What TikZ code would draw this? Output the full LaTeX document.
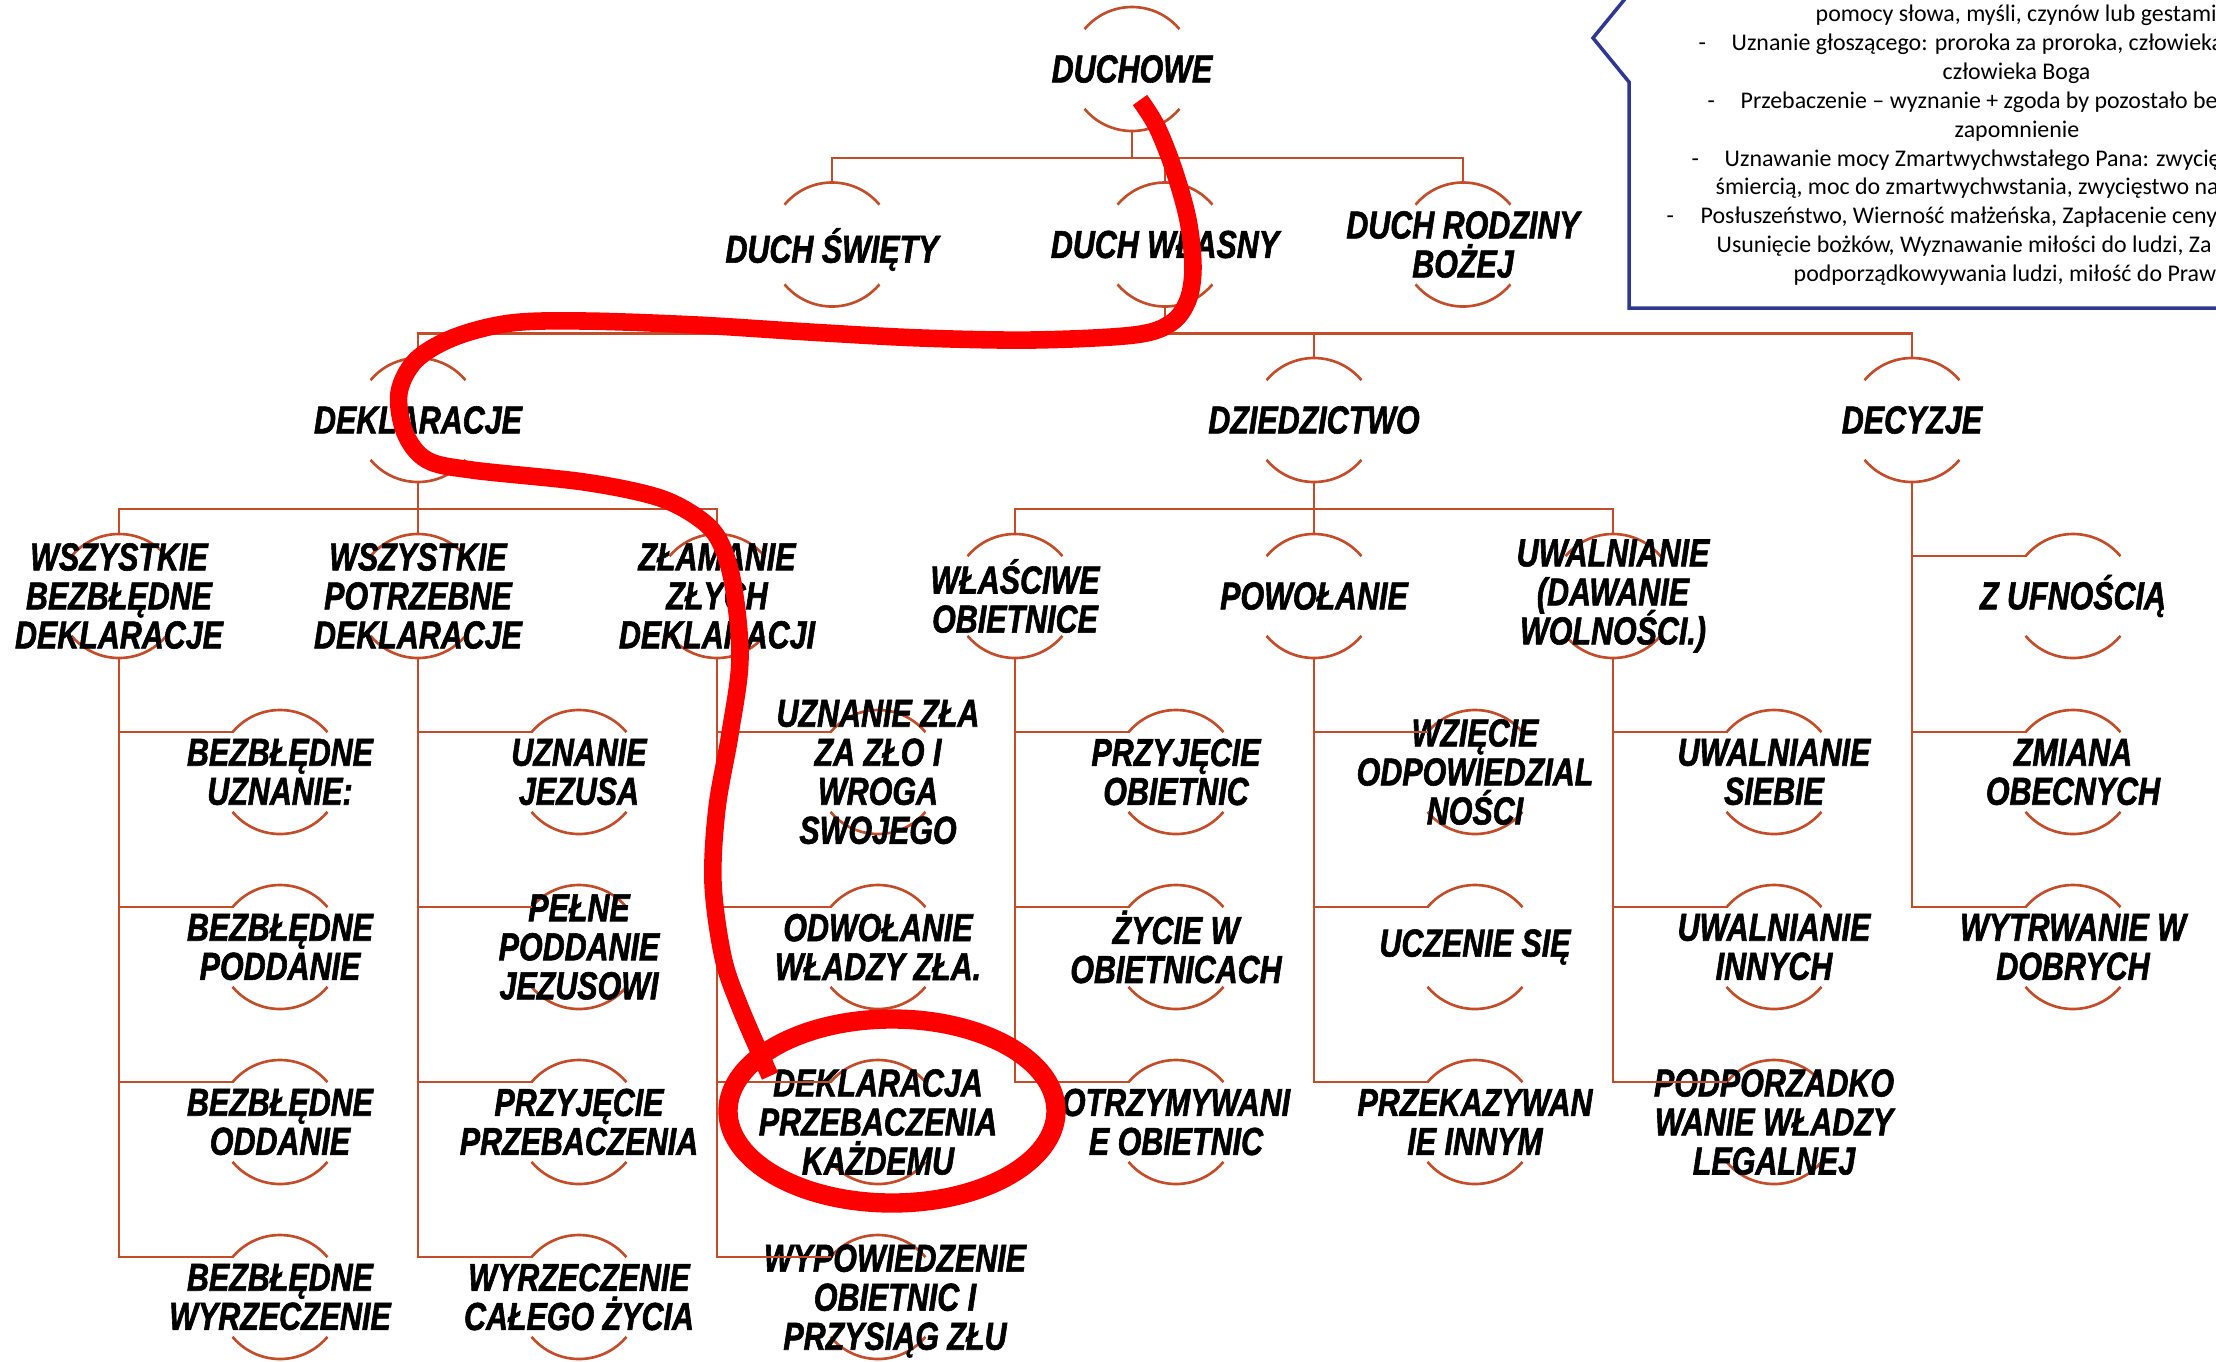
\documentclass[tikz,border=0pt]{standalone}
\usepackage{fontspec}
\setmainfont{Liberation Sans}
\newfontfamily\narrowsans[FakeStretch=0.78, FakeBold=1.5]{Liberation Sans}
\newfontfamily\notefont{Carlito}
\newcommand{\hubfont}{\narrowsans\bfseries\itshape\fontsize{11.1}{11.1}\selectfont\lineskiplimit=-20pt\relax}
\usepackage{tikz}
\usetikzlibrary{positioning}
\definecolor{hubline}{rgb}{0.77, 0.30, 0.16}
\definecolor{noteblue}{rgb}{0.18, 0.22, 0.57}
\definecolor{markred}{rgb}{1.0, 0.0, 0.0}

\begin{document}
\begin{tikzpicture}[
    hubtext/.style={font=\hubfont, align=center, inner sep=0pt},
    hub/.style={circle, minimum size=12.4mm, inner sep=0pt, outer sep=0pt, draw=hubline, line width=0.75pt,
        dash pattern=on 10.82mm off 8.66mm, dash phase=15.15mm, label={[hubtext]center:{#1}}},
    tree/.style={draw=hubline, line width=0.75pt},
    notetext/.style={font=\notefont\fontsize{6.8}{8.2}\selectfont, anchor=base west, inner sep=0pt},
    marker/.style={draw=markred, line width=5pt}]
    %
    \useasboundingbox (0,0) rectangle (22.16,-13.62);
    \clip (0,0) rectangle (22.16,-13.62);
    %
    % top
    \node[hub={DUCHOWE}] (duchowe) at (11.32,-0.69) {};
    \node[hub={}, label={[hubtext, yshift=-0.5mm]center:{DUCH ŚWIĘTY}}] (swiety) at (8.32,-2.445) {};
    \node[hub={DUCH WŁASNY}] (wlasny) at (11.65,-2.445) {};
    \node[hub={DUCH RODZINY\\BOŻEJ}] (rodzina) at (14.63,-2.445) {};
    %
    \node[hub={DEKLARACJE}] (deklaracje) at (4.18,-4.2) {};
    \node[hub={DZIEDZICTWO}] (dziedzictwo) at (13.14,-4.2) {};
    \node[hub={DECYZJE}] (decyzje) at (19.12,-4.2) {};
    %
    \node[hub={WSZYSTKIE\\BEZBŁĘDNE\\DEKLARACJE}] (bezbledne) at (1.19,-5.96) {};
    \node[hub={WSZYSTKIE\\POTRZEBNE\\DEKLARACJE}] (potrzebne) at (4.18,-5.96) {};
    \node[hub={ZŁAMANIE\\ZŁYCH\\DEKLARACJI}] (zlamanie) at (7.17,-5.96) {};
    \node[hub={WŁAŚCIWE\\OBIETNICE}] (wlasciwe) at (10.15,-5.96) {};
    \node[hub={POWOŁANIE}] (powolanie) at (13.14,-5.96) {};
    \node[hub={UWALNIANIE\\(DAWANIE\\WOLNOŚCI.)}] (uwalnianie) at (16.13,-5.96) {};
    %
    \node[hub={Z UFNOŚCIĄ}] (ufnosc) at (20.73,-5.96) {};
    \node[hub={ZMIANA\\OBECNYCH}] (zmiana) at (20.73,-7.72) {};
    \node[hub={WYTRWANIE W\\DOBRYCH}] (wytrwanie) at (20.73,-9.47) {};
    %
    % leaves
    \node[hub={BEZBŁĘDNE\\UZNANIE:}] (uznanie) at (2.80,-7.72) {};
    \node[hub={BEZBŁĘDNE\\PODDANIE}] (poddanie) at (2.80,-9.47) {};
    \node[hub={BEZBŁĘDNE\\ODDANIE}] (oddanie) at (2.80,-11.22) {};
    \node[hub={BEZBŁĘDNE\\WYRZECZENIE}] (wyrzeczenie) at (2.80,-12.97) {};
    %
    \node[hub={UZNANIE\\JEZUSA}] (jezusa) at (5.79,-7.72) {};
    \node[hub={PEŁNE\\PODDANIE\\JEZUSOWI}] (jezusowi) at (5.79,-9.47) {};
    \node[hub={PRZYJĘCIE\\PRZEBACZENIA}] (przyjecie) at (5.79,-11.22) {};
    \node[hub={WYRZECZENIE\\CAŁEGO ŻYCIA}] (calego) at (5.79,-12.97) {};
    %
    \node[hub={UZNANIE ZŁA\\ZA ZŁO I\\WROGA\\SWOJEGO}] (wroga) at (8.78,-7.72) {};
    \node[hub={ODWOŁANIE\\WŁADZY ZŁA.}] (odwolanie) at (8.78,-9.47) {};
    \node[hub={DEKLARACJA\\PRZEBACZENIA\\KAŻDEMU}] (kazdemu) at (8.78,-11.22) {};
    \node[hub={}, label={[hubtext, xshift=1.7mm, yshift=-0.4mm]center:{WYPOWIEDZENIE\\OBIETNIC I\\PRZYSIĄG ZŁU}}] (przysiag) at (8.78,-12.97) {};
    %
    \node[hub={PRZYJĘCIE\\OBIETNIC}] (przyjobiet) at (11.76,-7.72) {};
    \node[hub={ŻYCIE W\\OBIETNICACH}] (zycie) at (11.76,-9.47) {};
    \node[hub={OTRZYMYWANI\\E OBIETNIC}] (otrzymywanie) at (11.76,-11.22) {};
    %
    \node[hub={WZIĘCIE\\ODPOWIEDZIAL\\NOŚCI}] (wziecie) at (14.75,-7.72) {};
    \node[hub={UCZENIE SIĘ}] (uczenie) at (14.75,-9.47) {};
    \node[hub={PRZEKAZYWAN\\IE INNYM}] (przekazywanie) at (14.75,-11.22) {};
    %
    \node[hub={UWALNIANIE\\SIEBIE}] (siebie) at (17.74,-7.72) {};
    \node[hub={UWALNIANIE\\INNYCH}] (innych) at (17.74,-9.47) {};
    \node[hub={PODPORZADKO\\WANIE WŁADZY\\LEGALNEJ}] (legalnej) at (17.74,-11.22) {};
    %
    % connectors
    \draw[tree] (duchowe.south) -- ++(0,-0.27) -| (swiety.north);
    \draw[tree] (duchowe.south) -- ++(0,-0.27) -| (wlasny.north);
    \draw[tree] (duchowe.south) -- ++(0,-0.27) -| (rodzina.north);
    \draw[tree] (wlasny.south) -- ++(0,-0.27) -| (deklaracje.north);
    \draw[tree] (wlasny.south) -- ++(0,-0.27) -| (dziedzictwo.north);
    \draw[tree] (wlasny.south) -- ++(0,-0.27) -| (decyzje.north);
    \draw[tree] (deklaracje.south) -- ++(0,-0.27) -| (bezbledne.north);
    \draw[tree] (deklaracje.south) -- ++(0,-0.27) -| (potrzebne.north);
    \draw[tree] (deklaracje.south) -- ++(0,-0.27) -| (zlamanie.north);
    \draw[tree] (dziedzictwo.south) -- ++(0,-0.27) -| (wlasciwe.north);
    \draw[tree] (dziedzictwo.south) -- ++(0,-0.27) -| (powolanie.north);
    \draw[tree] (dziedzictwo.south) -- ++(0,-0.27) -| (uwalnianie.north);
    %
    \draw[tree] (decyzje.south) |- (ufnosc.140);
    \draw[tree] (decyzje.south) |- (zmiana.140);
    \draw[tree] (decyzje.south) |- (wytrwanie.140);
    \draw[tree] (bezbledne.south) |- (uznanie.140);
    \draw[tree] (bezbledne.south) |- (poddanie.140);
    \draw[tree] (bezbledne.south) |- (oddanie.140);
    \draw[tree] (bezbledne.south) |- (wyrzeczenie.140);
    \draw[tree] (potrzebne.south) |- (jezusa.140);
    \draw[tree] (potrzebne.south) |- (jezusowi.140);
    \draw[tree] (potrzebne.south) |- (przyjecie.140);
    \draw[tree] (potrzebne.south) |- (calego.140);
    \draw[tree] (zlamanie.south) |- (wroga.140);
    \draw[tree] (zlamanie.south) |- (odwolanie.140);
    \draw[tree] (zlamanie.south) |- (kazdemu.140);
    \draw[tree] (zlamanie.south) |- (przysiag.140);
    \draw[tree] (wlasciwe.south) |- (przyjobiet.140);
    \draw[tree] (wlasciwe.south) |- (zycie.140);
    \draw[tree] (wlasciwe.south) |- (otrzymywanie.140);
    \draw[tree] (powolanie.south) |- (wziecie.140);
    \draw[tree] (powolanie.south) |- (uczenie.140);
    \draw[tree] (powolanie.south) |- (przekazywanie.140);
    \draw[tree] (uwalnianie.south) |- (siebie.140);
    \draw[tree] (uwalnianie.south) |- (innych.140);
    \draw[tree] (uwalnianie.south) |- (legalnej.140);
    %
    % note box
    \draw[noteblue, line width=1pt] (16.29,0.5) -- (16.29,0.06) -- (15.93,-0.38) -- (16.29,-0.82) -- (16.29,-3.08) -- (22.5,-3.08);
    \node[notetext] (note1) at (18.15,-0.21) {pomocy słowa, myśli, czynów lub gestami};
    \node[notetext] (dash2) at (16.98,-0.50) {-};
    \node[notetext] (note2) at (17.31,-0.50) {Uznanie głoszącego: proroka za proroka, człowieka};
    \node[notetext] (note3) at (19.42,-0.79) {człowieka Boga};
    \node[notetext] (dash4) at (17.07,-1.08) {-};
    \node[notetext] (note4) at (17.40,-1.08) {Przebaczenie – wyznanie + zgoda by pozostało be};
    \node[notetext] (note5) at (19.54,-1.37) {zapomnienie};
    \node[notetext] (dash6) at (16.91,-1.66) {-};
    \node[notetext] (note6) at (17.24,-1.66) {Uznawanie mocy Zmartwychwstałego Pana: zwycię};
    \node[notetext] (note7) at (17.15,-1.94) {śmiercią, moc do zmartwychwstania, zwycięstwo na};
    \node[notetext] (dash8) at (16.66,-2.23) {-};
    \node[notetext] (note8) at (17.00,-2.23) {Posłuszeństwo, Wierność małżeńska, Zapłacenie ceny};
    \node[notetext] (note9) at (17.16,-2.52) {Usunięcie bożków, Wyznawanie miłości do ludzi, Za};
    \node[notetext] (note10) at (17.93,-2.81) {podporządkowywania ludzi, miłość do Praw};
    %
    % red hand marks
    \draw[marker] plot[smooth, tension=0.55] coordinates {(11.40,-1.00) (11.57,-1.27) (11.74,-1.70) (11.88,-2.20) (11.93,-2.67) (11.88,-3.00) (11.71,-3.23) (11.34,-3.35) (10.33,-3.40) (9.21,-3.38) (8.09,-3.32) (6.97,-3.25) (5.84,-3.21) (5.11,-3.23) (4.55,-3.37) (4.16,-3.60) (3.99,-3.93) (4.05,-4.33) (4.27,-4.60) (4.72,-4.70) (5.84,-4.82) (6.57,-4.97) (6.97,-5.17) (7.19,-5.40) (7.33,-5.84) (7.40,-6.59) (7.30,-7.34) (7.17,-8.08) (7.13,-8.83) (7.23,-9.57) (7.40,-10.07) (7.70,-10.76)};
    \draw[marker, line width=5.5pt] (8.92,-11.11) ellipse [x radius=1.64, y radius=0.92];
    %
\end{tikzpicture}
\end{document}
